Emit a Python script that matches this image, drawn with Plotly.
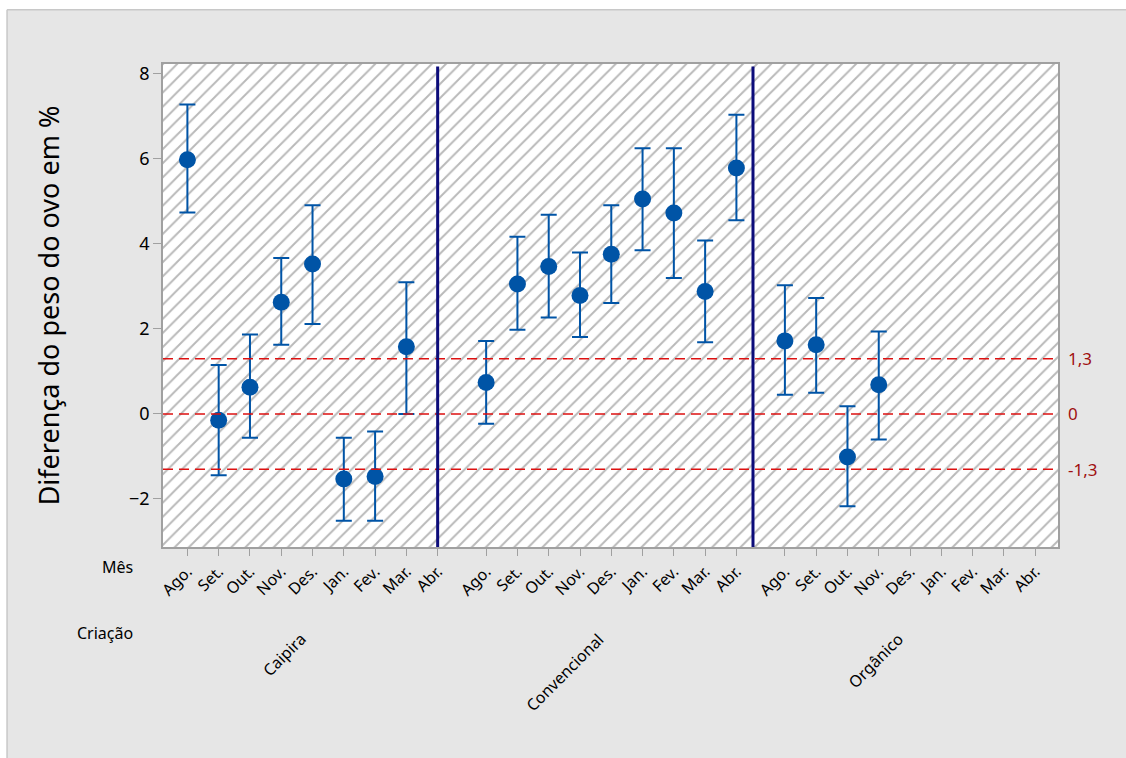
import plotly.graph_objects as go

# Meses e grupos de criação
meses = ["Ago.", "Set.", "Out.", "Nov.", "Des.", "Jan.", "Fev.", "Mar.", "Abr."]
criacoes = ["Caipira", "Convencional", "Orgânico"]

# Diferença média do peso do ovo (%) e limites do intervalo, por criação
media_caipira = [5.98, -0.15, 0.63, 2.63, 3.53, -1.53, -1.47, 1.58, None]
sup_caipira = [7.28, 1.15, 1.87, 3.67, 4.91, -0.56, -0.41, 3.10, None]
inf_caipira = [4.74, -1.44, -0.56, 1.63, 2.12, -2.51, -2.51, 0.00, None]

media_conv = [0.74, 3.06, 3.47, 2.79, 3.76, 5.06, 4.73, 2.88, 5.79]
sup_conv = [1.72, 4.17, 4.69, 3.80, 4.91, 6.25, 6.25, 4.08, 7.04]
inf_conv = [-0.23, 1.98, 2.27, 1.81, 2.61, 3.85, 3.20, 1.69, 4.56]

media_org = [1.72, 1.63, -1.01, 0.69, None, None, None, None, None]
sup_org = [3.03, 2.73, 0.18, 1.94, None, None, None, None, None]
inf_org = [0.45, 0.50, -2.17, -0.60, None, None, None, None, None]

# Linhas de referência horizontais
referencias = [1.3, 0.0, -1.3]
rotulos_ref = ["1,3", "0", "-1,3"]

medias = [media_caipira, media_conv, media_org]
superiores = [sup_caipira, sup_conv, sup_org]
inferiores = [inf_caipira, inf_conv, inf_org]

# Layout do eixo categórico
passo_grupo = 9.55
x_min, x_max = -0.78, 27.83
y_min, y_max = -3.13, 8.235
separadores = [8.0, 18.08]

AZUL = "#0054A6"
FONTE = "Noto Sans"

# conversão de pixels da página para coordenadas "paper"
L, R, T, B = 163, 1058.3, 64.3, 547.3
def px(x):
    return (x - L) / (R - L)
def py(y):
    return (B - y) / (B - T)

fig = go.Figure()

# Fundo hachurado da área do gráfico
fig.add_trace(go.Scatter(
    x=[x_min, x_max, x_max, x_min, x_min],
    y=[y_min, y_min, y_max, y_max, y_min],
    fill="toself",
    mode="none",
    fillcolor="white",
    fillpattern=dict(shape="/", size=10, solidity=0.2,
                     fgcolor="#737373", bgcolor="white"),
    hoverinfo="skip",
    showlegend=False,
))

tickvals, ticktext = [], []
for g, nome in enumerate(criacoes):
    xs = [g * passo_grupo + i for i in range(len(meses))]
    tickvals += xs
    ticktext += meses
    xp, yp, ep, em = [], [], [], []
    for x, m, s, inf in zip(xs, medias[g], superiores[g], inferiores[g]):
        if m is None:
            continue
        xp.append(x)
        yp.append(m)
        ep.append(s - m)
        em.append(m - inf)
    fig.add_trace(go.Scatter(
        x=xp, y=yp, mode="markers", name=nome,
        marker=dict(size=17, color=AZUL),
        error_y=dict(type="data", symmetric=False, array=ep, arrayminus=em,
                     color=AZUL, thickness=2, width=8),
        showlegend=False,
    ))

shapes = [
    # painel cinza de fundo
    dict(type="rect", xref="paper", yref="paper",
         x0=px(7), x1=px(1200), y0=py(800), y1=py(10),
         fillcolor="#e6e6e6", line=dict(width=0), layer="below"),
    dict(type="line", xref="paper", yref="paper",
         x0=px(7), x1=px(1200), y0=py(10), y1=py(10),
         line=dict(color="#c8c8c8", width=1.5), layer="below"),
    dict(type="line", xref="paper", yref="paper",
         x0=px(7), x1=px(7), y0=py(10), y1=py(800),
         line=dict(color="#c8c8c8", width=1.5), layer="below"),
]
for r in referencias:
    shapes.append(dict(type="line", xref="paper", yref="y", x0=0, x1=1, y0=r, y1=r,
                       line=dict(color="#dd1111", width=1.5, dash="10px,6px")))
for s in separadores:
    shapes.append(dict(type="line", xref="x", yref="paper", x0=s, x1=s, y0=0, y1=0.995,
                       line=dict(color="#0c0c7a", width=3)))

annotations = []
for r, t in zip(referencias, rotulos_ref):
    annotations.append(dict(xref="paper", yref="y", x=px(1066), y=r, text=t,
                            showarrow=False, xanchor="left", yanchor="middle",
                            font=dict(family=FONTE, size=17, color="#a01010")))
annotations.append(dict(xref="paper", yref="paper", x=px(135), y=py(567), text="Mês",
                        showarrow=False, xanchor="right", yanchor="middle",
                        font=dict(family=FONTE, size=16, color="black")))
annotations.append(dict(xref="paper", yref="paper", x=px(135), y=py(633), text="Criação",
                        showarrow=False, xanchor="right", yanchor="middle",
                        font=dict(family=FONTE, size=16, color="black")))
for g, nome in enumerate(criacoes):
    annotations.append(dict(xref="x", yref="paper", x=g * passo_grupo + 4, y=py(626),
                            text=nome, textangle=-45, showarrow=False,
                            xanchor="right", yanchor="top",
                            font=dict(family=FONTE, size=16, color="black")))

fig.update_layout(
    width=1126, height=758,
    margin=dict(l=163, r=68, t=64, b=211),
    paper_bgcolor="white",
    plot_bgcolor="white",
    font=dict(family=FONTE, color="black"),
    shapes=shapes,
    annotations=annotations,
    xaxis=dict(range=[x_min, x_max], tickvals=tickvals, ticktext=ticktext,
               tickangle=-45, tickfont=dict(size=16), ticks="outside", ticklen=7,
               tickcolor="#a0a0a0", showline=True, linecolor="#a0a0a0", linewidth=1.5,
               mirror=True, showgrid=False, zeroline=False),
    yaxis=dict(range=[y_min, y_max], tickvals=[-2, 0, 2, 4, 6, 8],
               tickfont=dict(size=18), ticks="outside", ticklen=8,
               tickcolor="#a0a0a0", showline=True, linecolor="#a0a0a0", linewidth=1.5,
               mirror=True, showgrid=False, zeroline=False,
               title=dict(text="Diferença do peso do ovo em %", font=dict(size=27),
                          standoff=62)),
)

fig.write_html("out.html")
